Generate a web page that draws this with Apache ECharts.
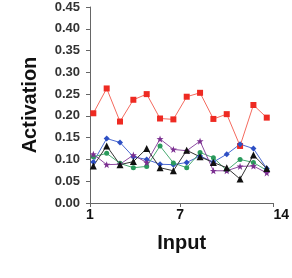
<!DOCTYPE html>
<html>
<head>
<meta charset="utf-8">
<script src="https://cdn.jsdelivr.net/npm/echarts@6/dist/echarts.min.js"></script>
<style>
  html, body { margin: 0; padding: 0; background: #fff; }
  #main { width: 292px; height: 278px; }
</style>
</head>
<body>
<div id="main"></div>
<script>
// input index 1..14
var inputs = [1, 2, 3, 4, 5, 6, 7, 8, 9, 10, 11, 12, 13, 14];
var redVals = [0.206, 0.263, 0.187, 0.237, 0.250, 0.194, 0.192, 0.244, 0.253, 0.193, 0.204, 0.131, 0.225, 0.196];
var blueVals = [0.094, 0.148, 0.139, 0.106, 0.100, 0.089, 0.088, 0.093, 0.108, 0.094, 0.112, 0.135, 0.125, 0.079];
var blackVals = [0.085, 0.131, 0.088, 0.095, 0.125, 0.081, 0.074, 0.121, 0.106, 0.093, 0.081, 0.055, 0.110, 0.079];
var greenVals = [0.106, 0.114, 0.091, 0.081, 0.084, 0.131, 0.092, 0.081, 0.116, 0.104, 0.075, 0.100, 0.093, 0.075];
var purpleVals = [0.112, 0.088, 0.089, 0.110, 0.093, 0.147, 0.123, 0.120, 0.142, 0.074, 0.074, 0.084, 0.085, 0.069];
var xTickVals = [0.75, 7.5, 14.5];
var xTickLabels = ['1', '7', '14'];

var starPath = 'path://M0,-10 L2.4,-3.2 L9.5,-3.1 L3.8,1.2 L5.9,8.1 L0,4 L-5.9,8.1 L-3.8,1.2 L-9.5,-3.1 L-2.4,-3.2 Z';

function pairs(vals) {
    return inputs.map(function (x, i) { return [x, vals[i]]; });
}

function mkSeries(vals, color, lineColor, symbol, size) {
    return {
        type: 'line',
        data: pairs(vals),
        symbol: symbol,
        symbolSize: size,
        lineStyle: { color: lineColor, width: 1 },
        itemStyle: { color: color },
        emphasis: { disabled: true }
    };
}

var myChart = echarts.init(document.getElementById('main'));
var fontFam = '"Liberation Sans", Arial, sans-serif';

option = {
    animation: false,
    grid: { left: 90, top: 7, right: 13, bottom: 75 },
    xAxis: {
        type: 'value',
        min: 0.75,
        max: 14.5,
        name: 'Input',
        nameLocation: 'middle',
        nameGap: 30,
        nameTextStyle: { fontSize: 20, fontWeight: 'bold', color: '#111', fontFamily: fontFam },
        splitLine: { show: false },
        axisLine: { lineStyle: { color: '#666', width: 1 } },
        axisTick: { length: 4, lineStyle: { color: '#666' }, customValues: xTickVals },
        axisLabel: {
            customValues: xTickVals,
            formatter: function (v) {
                var idx = xTickVals.indexOf(v);
                return idx >= 0 ? xTickLabels[idx] : '';
            },
            alignMaxLabel: 'left',
            margin: 5,
            fontSize: 14,
            fontWeight: 'bold',
            color: '#111',
            fontFamily: fontFam
        }
    },
    yAxis: {
        type: 'value',
        min: 0,
        max: 0.45,
        interval: 0.05,
        name: 'Activation',
        nameLocation: 'middle',
        nameGap: 50,
        nameTextStyle: { fontSize: 20, fontWeight: 'bold', color: '#111', fontFamily: fontFam },
        splitLine: { show: false },
        axisLine: { show: true, lineStyle: { color: '#666', width: 1 } },
        axisTick: { show: true, length: 4, lineStyle: { color: '#666' } },
        axisLabel: {
            formatter: function (v) { return v.toFixed(2); },
            margin: 10,
            fontSize: 13,
            fontWeight: 'bold',
            color: '#333',
            fontFamily: fontFam
        }
    },
    series: [
        mkSeries(redVals, '#ee2a22', '#f46a5e', 'rect', 6),
        mkSeries(blueVals, '#2d4fc4', '#4a68d0', 'diamond', 6),
        mkSeries(greenVals, '#2a9a5c', '#4aab72', 'circle', 5),
        mkSeries(purpleVals, '#7b2f90', '#8c4aa0', starPath, 7),
        mkSeries(blackVals, '#111111', '#333333', 'triangle', 7)
    ]
};

myChart.setOption(option, true);
</script>
</body>
</html>
